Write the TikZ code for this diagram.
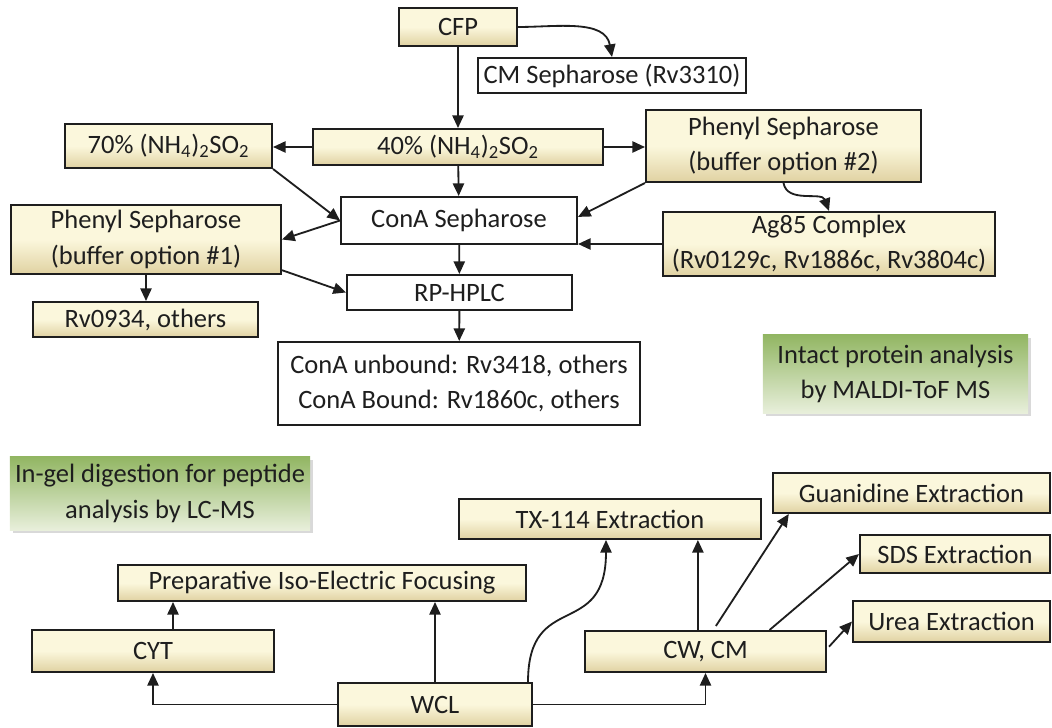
\documentclass[tikz,border=0pt]{standalone}
\usepackage{fontspec}
\setmainfont{Carlito}
\usetikzlibrary{arrows.meta, shadows}
\definecolor{tantop}{HTML}{FBF7DC}
\definecolor{tanbot}{HTML}{E0D2A2}
\definecolor{greentop}{HTML}{92B663}
\definecolor{greenbot}{HTML}{E8EFDB}
\definecolor{ink}{HTML}{1E1E1E}

\begin{document}
\begin{tikzpicture}[x=0.025cm, y=0.025cm, >={Triangle[length=9pt,width=8pt]}, font=\fontsize{18.85}{25}\selectfont, text=ink]
  \tikzstyle{box} = [draw=ink, line width=1.4pt, rectangle, inner sep=0pt, align=center]
  \tikzstyle{tanbox} = [box, top color=tantop, bottom color=tanbot, middle color=tantop]
  \tikzstyle{whitebox} = [box, fill=white]
  \tikzstyle{note} = [rectangle, inner sep=0pt, align=center, top color=greentop, bottom color=greenbot, drop shadow={opacity=0.3, shadow xshift=2pt, shadow yshift=-2pt}]
  \tikzstyle{link} = [->, line width=1.3pt, draw=ink]
  \useasboundingbox (0,0) rectangle (1052,-728);

  \node [tanbox, minimum width=2.95cm, minimum height=0.95cm] (cfp) at (458,-27) {CFP};
  \node [whitebox, minimum width=6.7cm, minimum height=0.875cm] (cm) at (612,-75.5) {CM Sepharose (Rv3310)};
  \node [tanbox, minimum width=7.25cm, minimum height=0.9cm] (am40) at (458,-147) {40\% (NH\textsubscript{4})\textsubscript{2}SO\textsubscript{2}};
  \node [tanbox, minimum width=5.175cm, minimum height=1.1cm] (am70) at (168.5,-146) {70\% (NH\textsubscript{4})\textsubscript{2}SO\textsubscript{2}};
  \node [tanbox, minimum width=6.875cm, minimum height=1.8cm] (phen2) at (783.5,-146) {Phenyl Sepharose\\(buffer option \#2)};
  \node [whitebox, minimum width=5.9cm, minimum height=1.175cm] (cona) at (459,-220.5) {ConA Sepharose};
  \node [tanbox, minimum width=6.75cm, minimum height=1.725cm] (phen1) at (146,-239.5) {Phenyl Sepharose\\(buffer option \#1)};
  \node [tanbox, minimum width=8.3cm, minimum height=1.6cm] (ag85) at (829,-244) {Ag85 Complex\\(Rv0129c, Rv1886c, Rv3804c)};
  \node [tanbox, minimum width=5.625cm, minimum height=0.875cm] (rv0934) at (145.5,-319.5) {Rv0934, others};
  \node [whitebox, minimum width=5.625cm, minimum height=0.875cm] (hplc) at (459.5,-292.5) {RP-HPLC};
  \node [whitebox, minimum width=9.05cm, minimum height=2.075cm] (result) at (459,-383.5) {ConA unbound: Rv3418, others\\ConA Bound: Rv1860c, others};
  \node [note, minimum width=6.625cm, minimum height=1.95cm] (maldi) at (895.5,-374) {Intact protein analysis\\by MALDI-ToF MS};
  \node [note, minimum width=7.5cm, minimum height=1.825cm] (lcms) at (160,-493.5) {In-gel digestion for peptide\\analysis by LC-MS};

  \node [tanbox, minimum width=10.2cm, minimum height=0.9cm] (ief) at (322,-583) {Preparative Iso-Electric Focusing};
  \node [tanbox, minimum width=6.05cm, minimum height=1.05cm] (cyt) at (153,-651) {CYT};
  \node [tanbox, minimum width=4.85cm, minimum height=1.075cm] (wcl) at (435,-704.5) {WCL};
  \node [tanbox, minimum width=7.55cm, minimum height=1cm] (tx) at (610,-519) {TX-114 Extraction};
  \node [tanbox, minimum width=6.025cm, minimum height=1.025cm] (cwcm) at (705.5,-651.5) {CW, CM};
  \node [tanbox, minimum width=6.925cm, minimum height=1cm] (guan) at (911.5,-493) {Guanidine Extraction};
  \node [tanbox, minimum width=4.75cm, minimum height=0.95cm] (sds) at (955,-554) {SDS Extraction};
  \node [tanbox, minimum width=4.925cm, minimum height=1.025cm] (urea) at (951.5,-621.5) {Urea Extraction};

  \draw [link] (cfp) -- (am40);
  \draw [link] (cfp.east) to[out=0, in=100] (cm.north);
  \draw [link] (am40.west) -- (am40.west -| am70.east);
  \draw [link] (am40.east) -- (am40.east -| phen2.west);
  \draw [link] (am40) -- (cona);
  \draw [link] (am70.south east) -- (cona.west);
  \draw [link] (cona.west) -- (phen1.east);
  \draw [link] (phen2.south west) -- ([yshift=0.09cm]cona.east);
  \draw [link] (phen2.south) to[out=-80, in=110] (ag85.north);
  \draw [link] (ag85.west) -- (ag85.west -| cona.east);
  \draw [link] (cona) -- (hplc);
  \draw [link] (phen1.south) -- (phen1.south |- rv0934.north);
  \draw [link] ([yshift=0.12cm]phen1.south east) -- (hplc.west);
  \draw [link] (hplc) -- (result);

  \draw [link] (wcl.west) -| (cyt.south);
  \draw [link] (wcl.east) -| (cwcm.south);
  \draw [link] (wcl.north) -- (wcl.north |- ief.south);
  \draw [link] ([xshift=0.5cm]cyt.north) -- ([xshift=0.5cm]cyt.north |- ief.south);
  \draw [link] ([xshift=-0.125cm]wcl.north east) .. controls +(0,93) and +(0,-101) .. ([xshift=-0.1cm]tx.south);
  \draw [link] ([xshift=-0.19cm]cwcm.north) -- ([xshift=-0.19cm]cwcm.north |- tx.south);
  \draw [link] ([xshift=0.26cm,yshift=0.1cm]cwcm.north) -- ([xshift=0.42cm]guan.south west);
  \draw [link] ([xshift=1.6cm]cwcm.north) -- (sds.west);
  \draw [link] ([xshift=0.05cm,yshift=0.12cm]cwcm.east) -- (urea.west);
\end{tikzpicture}
\end{document}
